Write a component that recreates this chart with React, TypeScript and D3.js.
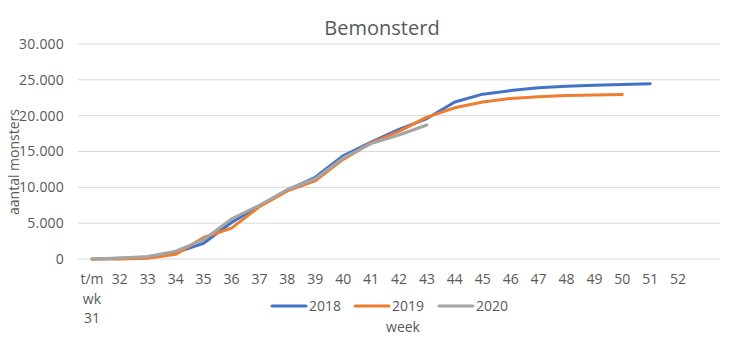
import React from "react";
import * as d3 from "d3";

const weeks = ["31", "32", "33", "34", "35", "36", "37", "38", "39", "40", "41", "42", "43", "44", "45", "46", "47", "48", "49", "50", "51", "52", "53"];
const weekLabels = ["t/m|wk|31", "32", "33", "34", "35", "36", "37", "38", "39", "40", "41", "42", "43", "44", "45", "46", "47", "48", "49", "50", "51", "52", ""];
const values2018 = [0, 100, 250, 900, 2200, 5100, 7400, 9600, 11400, 14400, 16300, 18100, 19600, 21900, 23000, 23500, 23900, 24100, 24250, 24350, 24450];
const values2019 = [0, 0, 100, 650, 3000, 4300, 7300, 9500, 10900, 13900, 16200, 17800, 19800, 21100, 21900, 22400, 22650, 22800, 22900, 22950];
const values2020 = [0, 150, 350, 1100, 2700, 5600, 7500, 9700, 11200, 14100, 16100, 17300, 18700];
const seriesNames = ["2018", "2019", "2020"];
const seriesColors = ["#4472C4", "#ED7D31", "#A5A5A5"];
const yTicks = [0, 5000, 10000, 15000, 20000, 25000, 30000];

const W = 750;
const H = 346;
const plot = { left: 78, right: 720, top: 44, bottom: 259 };
const FONT = "'Open Sans', 'Liberation Sans', sans-serif";
const TXT = "#595959";

export default function App() {
  const x = d3.scaleBand<string>().domain(weeks).range([plot.left, plot.right]).paddingInner(0).paddingOuter(0);
  const y = d3.scaleLinear().domain([0, 30000]).range([plot.bottom, plot.top]);
  const fmt = (v: number) => d3.format(",")(v).replace(/,/g, ".");
  const cx = (i: number) => (x(weeks[i]) as number) + x.bandwidth() / 2;
  const line = d3
    .line<number>()
    .x((_, i) => cx(i))
    .y((d) => y(d));
  const series = [values2018, values2019, values2020];
  const legendX = [272, 355, 439];

  return (
    <svg width={W} height={H} style={{ position: "absolute", left: 0, top: 0, background: "#fff" }} fontFamily={FONT}>
      <rect x={0} y={0} width={W} height={H} fill="#fff" />
      <text x={382} y={35} textAnchor="middle" fontSize={20} fill={TXT}>
        Bemonsterd
      </text>
      {yTicks.map((t) => (
        <g key={t}>
          <line x1={plot.left} x2={plot.right} y1={y(t)} y2={y(t)} stroke="#D9D9D9" strokeWidth={1} />
          <text x={64} y={y(t)} dy="0.35em" textAnchor="end" fontSize={14} letterSpacing={0.2} fill={TXT}>
            {fmt(t)}
          </text>
        </g>
      ))}
      <text transform={`translate(19,162) rotate(-90)`} textAnchor="middle" fontSize={14} fill={TXT}>
        aantal monsters
      </text>
      {weekLabels.map((lab, i) =>
        lab.split("|").map((part, j) => (
          <text key={`${i}-${j}`} x={cx(i)} y={284 + j * 19.5} textAnchor="middle" fontSize={14} fill={TXT}>
            {part}
          </text>
        ))
      )}
      {series.map((vals, k) => (
        <path key={k} d={line(vals) as string} fill="none" stroke={seriesColors[k]} strokeWidth={3} strokeLinejoin="round" strokeLinecap="round" />
      ))}
      {seriesNames.map((name, k) => (
        <g key={name}>
          <line x1={legendX[k]} x2={legendX[k] + 34} y1={306} y2={306} stroke={seriesColors[k]} strokeWidth={3} strokeLinecap="round" />
          <text x={legendX[k] + 37} y={306} dy="0.35em" fontSize={14} fill={TXT}>
            {name}
          </text>
        </g>
      ))}
      <text x={403} y={332} textAnchor="middle" fontSize={14} fill={TXT}>
        week
      </text>
    </svg>
  );
}
